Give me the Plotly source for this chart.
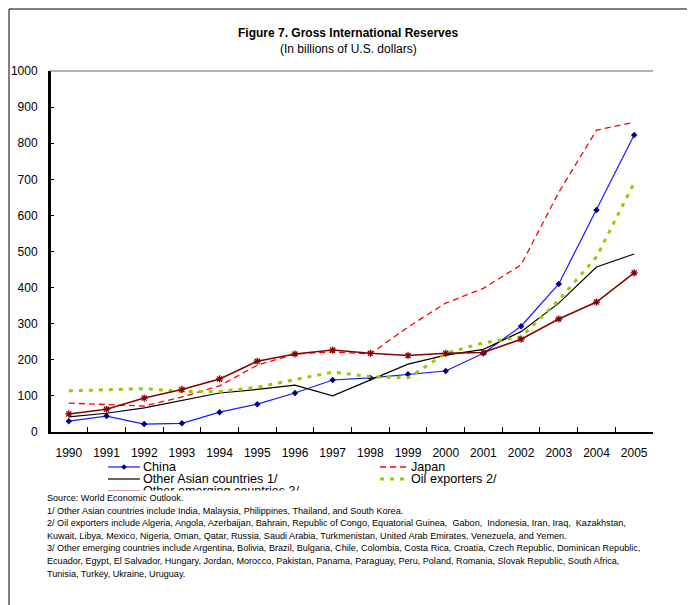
import plotly.graph_objects as go

years = [str(y) for y in range(1990, 2006)]
china = [30, 44, 22, 24, 55, 77, 108, 144, 150, 160, 169, 218, 293, 410, 615, 823]
japan = [80, 75, 72, 97, 128, 185, 216, 222, 216, 291, 357, 398, 463, 664, 836, 858]
other_asian = [42, 52, 67, 88, 108, 118, 130, 100, 144, 188, 213, 229, 278, 357, 457, 493]
oil_exporters = [114, 118, 120, 112, 112, 124, 146, 166, 153, 150, 218, 247, 263, 365, 485, 690]
other_emerging = [50, 63, 94, 118, 147, 196, 216, 227, 218, 212, 218, 220, 257, 313, 360, 441]
y_ticks = [0, 100, 200, 300, 400, 500, 600, 700, 800, 900, 1000]

FONT = "Arial, Liberation Sans, sans-serif"

styles = {
    "China": dict(color="#1a1aff", width=1.2, dash="solid"),
    "Japan": dict(color="#ff0000", width=1.3, dash="6px,4px"),
    "Other Asian countries 1/": dict(color="#000000", width=1.2, dash="solid"),
    "Oil exporters 2/": dict(color="#99cc00", width=3, dash="4px,6px"),
    "Other emerging countries 3/": dict(color="#8b0000", width=1.5, dash="solid"),
}

fig = go.Figure()
fig.add_trace(go.Scatter(x=years, y=china, name="China", mode="lines+markers",
                         line=styles["China"],
                         marker=dict(symbol="diamond", size=5, color="#000080")))
fig.add_trace(go.Scatter(x=years, y=japan, name="Japan", mode="lines",
                         line=styles["Japan"]))
fig.add_trace(go.Scatter(x=years, y=other_asian, name="Other Asian countries 1/", mode="lines",
                         line=styles["Other Asian countries 1/"]))
fig.add_trace(go.Scatter(x=years, y=oil_exporters, name="Oil exporters 2/", mode="lines",
                         line=styles["Oil exporters 2/"]))
fig.add_trace(go.Scatter(x=years, y=other_emerging, name="Other emerging countries 3/", mode="lines+markers",
                         line=styles["Other emerging countries 3/"],
                         marker=dict(symbol="asterisk-open", size=6, color="#8b0000",
                                     line=dict(color="#8b0000", width=1.3))))

# page offset (browser body margin), figure size and margins (window coordinates below)
O = 8
W, H = 695 - O, 605 - O
L, T = 50 - O, 71 - O
R = W - (653 - O)
B = H - (432 - O)
pw, ph = W - L - R, H - T - B

def px(x):  # window x -> paper
    return (x - O - L) / pw

def py(y):  # window y -> paper
    return (H - B - (y - O)) / ph

axis_common = dict(showgrid=False, zeroline=False, automargin=False,
                   showline=True, linecolor="black", linewidth=2,
                   ticks="inside", tickcolor="black", tickwidth=1,
                   tickfont=dict(size=12, family=FONT, color="black"))

fig.update_layout(
    width=W, height=H,
    margin=dict(l=L, r=R, t=T, b=B, pad=0),
    paper_bgcolor="white", plot_bgcolor="white",
    font=dict(family=FONT, size=12, color="black"),
    showlegend=False,
    xaxis=dict(type="category", range=[-0.5, 15.5], tickson="boundaries", ticklen=5,
               ticklabelstandoff=9, **axis_common),
    yaxis=dict(range=[0, 1000], tickvals=y_ticks, ticklen=4, ticklabelstandoff=8, **axis_common),
    yaxis2=dict(range=[0, 1000], tickvals=y_ticks, overlaying="y", side="right", ticklen=4,
                ticklabelstandoff=5, **axis_common),
)

# left axis line drawn explicitly as well (black, 2px)
fig.add_shape(type="line", xref="paper", yref="paper", x0=0, x1=0, y0=0, y1=1,
              line=dict(color="black", width=2), layer="above")
# top frame line of plot area (thin gray)
fig.add_shape(type="line", xref="paper", yref="paper", x0=0, x1=1, y0=1, y1=1,
              line=dict(color="#666666", width=1))
# outer frame of figure (left and top edges visible)
fig.add_shape(type="line", xref="paper", yref="paper", x0=px(O + 1), x1=px(O + W), y0=py(O + 1), y1=py(O + 1),
              line=dict(color="black", width=1), layer="above")
fig.add_shape(type="line", xref="paper", yref="paper", x0=px(O + 1), x1=px(O + 1), y0=py(O + 1), y1=py(O + H),
              line=dict(color="black", width=1), layer="above")

fig.add_annotation(text="<b>Figure 7. Gross International Reserves</b>", xref="paper", yref="paper",
                   x=px(348), y=py(33), xanchor="center", yanchor="middle", showarrow=False,
                   font=dict(size=12, family=FONT))
fig.add_annotation(text="(In billions of U.S. dollars)", xref="paper", yref="paper",
                   x=px(348), y=py(49), xanchor="center", yanchor="middle", showarrow=False,
                   font=dict(size=12, family=FONT))

# legend built by hand (two columns, third row clipped as in the reference)
legend_items = [
    ("China", 108, 140, 467),
    ("Japan", 380, 408, 467),
    ("Other Asian countries 1/", 108, 140, 479),
    ("Oil exporters 2/", 380, 408, 479),
    ("Other emerging countries 3/", 108, 140, 491),
]
for name, xa, xb, yy in legend_items:
    st = styles[name]
    fig.add_shape(type="line", xref="paper", yref="paper", x0=px(xa), x1=px(xb), y0=py(yy), y1=py(yy),
                  line=dict(color=st["color"], width=st["width"], dash=st["dash"]))
    fig.add_annotation(text=name, xref="paper", yref="paper", x=px(xb + 1), y=py(yy),
                       xanchor="left", yanchor="middle", showarrow=False,
                       font=dict(size=12.6, family=FONT, color="black"))
# China legend marker (small diamond)
cx, cy = 124, 467
fig.add_shape(type="path", xref="paper", yref="paper",
              path=f"M {px(cx - 2.5)} {py(cy)} L {px(cx)} {py(cy - 2.5)} L {px(cx + 2.5)} {py(cy)} L {px(cx)} {py(cy + 2.5)} Z",
              fillcolor="#000080", line=dict(color="#000080", width=0.5))

# white cover clipping the third legend row
fig.add_annotation(text=" ", xref="paper", yref="paper", x=px(60), y=py(489.5), xanchor="left", yanchor="top",
                   width=500, height=12, bgcolor="white", showarrow=False, borderpad=0)

notes = [
    "Source: World Economic Outlook.",
    "1/ Other Asian countries include India, Malaysia, Philippines, Thailand, and South Korea.",
    "2/ Oil exporters include Algeria, Angola, Azerbaijan, Bahrain, Republic of Congo, Equatorial Guinea,  Gabon,  Indonesia, Iran, Iraq,  Kazakhstan,",
    "Kuwait, Libya, Mexico, Nigeria, Oman, Qatar, Russia, Saudi Arabia, Turkmenistan, United Arab Emirates, Venezuela, and Yemen.",
    "3/ Other emerging countries include Argentina, Bolivia, Brazil, Bulgaria, Chile, Colombia, Costa Rica, Croatia, Czech Republic, Dominican Republic,",
    "Ecuador, Egypt, El Salvador, Hungary, Jordan, Morocco, Pakistan, Panama, Paraguay, Peru, Poland, Romania, Slovak Republic, South Africa,",
    "Tunisia, Turkey, Ukraine, Uruguay.",
]
for i, t in enumerate(notes):
    fig.add_annotation(text=t, xref="paper", yref="paper", x=px(45), y=py(498 + i * 12.6),
                       xanchor="left", yanchor="middle", showarrow=False,
                       font=dict(size=9.1, family=FONT, color="black"))

fig.write_html("out.html")
